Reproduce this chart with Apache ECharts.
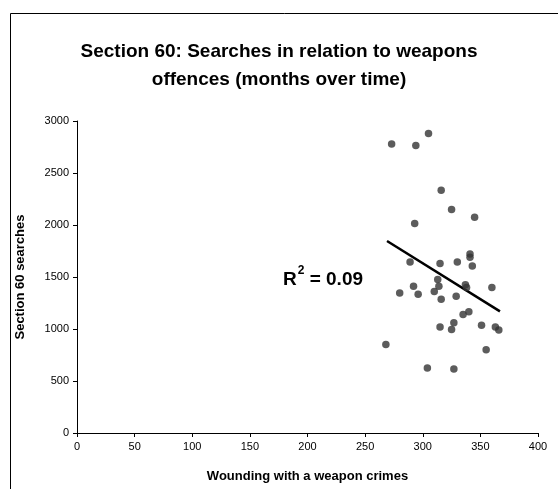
<!DOCTYPE html>
<html>
<head>
<meta charset="utf-8">
<script src="https://cdn.jsdelivr.net/npm/echarts@6/dist/echarts.min.js"></script>
<style>
html,body{margin:0;padding:0;background:#fff;}
#chart{width:558px;height:489px;}
</style>
</head>
<body>
<div id="chart"></div>
<script>
var woundingCrimes = [273,294,305,316,325,345,293,289,315,330,341,341,343,313,314,337,338,292,360,280,296,310,316,329,340,335,327,315,325,351,363,366,268,304,327,355];
var section60Searches = [2780,2765,2880,2335,2150,2075,2015,1645,1630,1645,1720,1690,1605,1475,1410,1425,1400,1410,1400,1345,1335,1360,1285,1315,1165,1140,1060,1020,995,1035,1020,990,850,625,615,800];
var trendX = [269, 367];
var trendY = [1846, 1170];
var xTicks = [0,50,100,150,200,250,300,350,400];
var yTicks = [0,500,1000,1500,2000,2500,3000];
var titleLines = ['Section 60: Searches in relation to weapons', 'offences (months over time)'];
var xTitle = 'Wounding with a weapon crimes';
var yTitle = 'Section 60 searches';
var r2Text = '0.09';

var FONT = '"Liberation Sans", Arial, sans-serif';
var chart = echarts.init(document.getElementById('chart'), null, {renderer:'canvas'});

var points = woundingCrimes.map(function(x,i){ return [x, section60Searches[i]]; });
var trend = trendX.map(function(x,i){ return [x, trendY[i]]; });

chart.setOption({
  animation:false,
  backgroundColor:'#fff',
  title:{
    text: titleLines.join('\n'),
    left:'center',
    top:33,
    textStyle:{fontFamily:FONT,fontSize:19,fontWeight:'bold',color:'#000',lineHeight:28}
  },
  grid:{left:77,right:20,top:121,bottom:56,containLabel:false},
  xAxis:{
    type:'value',min:xTicks[0],max:xTicks[xTicks.length-1],interval:50,
    name:xTitle,nameLocation:'middle',nameGap:37,
    nameTextStyle:{fontFamily:FONT,fontSize:13,fontWeight:'bold',color:'#000'},
    axisLine:{show:true,onZero:false,lineStyle:{color:'#000',width:1}},
    axisTick:{show:true,inside:false,length:4,lineStyle:{color:'#000'}},
    axisLabel:{fontFamily:FONT,fontSize:11,color:'#000',margin:8,formatter:function(v){return String(v);}},
    splitLine:{show:false}
  },
  yAxis:{
    type:'value',min:yTicks[0],max:yTicks[yTicks.length-1],interval:500,
    name:yTitle,nameLocation:'middle',nameGap:50,
    nameTextStyle:{fontFamily:FONT,fontSize:13,fontWeight:'bold',color:'#000'},
    axisLine:{show:true,lineStyle:{color:'#000',width:1}},
    axisTick:{show:true,inside:false,length:4,lineStyle:{color:'#000'}},
    axisLabel:{fontFamily:FONT,fontSize:11,color:'#000',margin:8,formatter:function(v){return String(v);}},
    splitLine:{show:false}
  },
  graphic:[
    {type:'rect',left:8,top:11,shape:{width:700,height:700},style:{fill:'none',stroke:'#000',lineWidth:1},silent:true,z:-1},
    {type:'text',left:283,top:265,style:{
      text:'{b|R}{s|2}{b| = ' + r2Text + '}',
      rich:{
        b:{fontFamily:FONT,fontSize:19,fontWeight:'bold',fill:'#000',verticalAlign:'bottom',lineHeight:24},
        s:{fontFamily:FONT,fontSize:12,fontWeight:'bold',fill:'#000',verticalAlign:'top',lineHeight:24,padding:[0,0,12,1]}
      }
    }}
  ],
  series:[
    {type:'scatter',data:points,symbol:'circle',symbolSize:7.5,itemStyle:{color:'#333333'},z:3},
    {type:'line',data:trend,symbol:'none',lineStyle:{color:'#000',width:2.5},z:2}
  ]
});
</script>
</body>
</html>
